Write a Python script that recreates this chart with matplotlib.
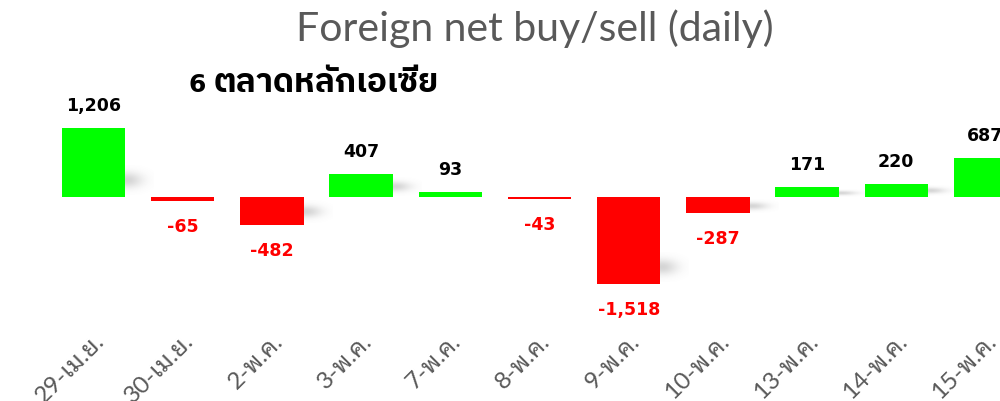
import matplotlib
matplotlib.use("Agg")
import matplotlib.pyplot as plt
import numpy as np

categories = ["29-เม.ย.", "30-เม.ย.", "2-พ.ค.", "3-พ.ค.", "7-พ.ค.", "8-พ.ค.",
              "9-พ.ค.", "10-พ.ค.", "13-พ.ค.", "14-พ.ค.", "15-พ.ค."]
values = [1206, -65, -482, 407, 93, -43, -1518, -287, 171, 220, 687]

title = "Foreign net buy/sell (daily)"
subtitle_num = "6"
subtitle_thai = "ตลาดหลักเอเซีย"

GREEN = "#00FF00"
RED = "#FF0000"
GRAY = "#595959"

W, H = 1000, 401
fig = plt.figure(figsize=(W / 100, H / 100), dpi=100)

ax_bottom_px = 79
ax = fig.add_axes([0, ax_bottom_px / H, 1, (H - ax_bottom_px) / H])
ax.set_facecolor("none")

x = np.arange(len(values))
px_per_cat = 89.2
first_center = 93.5
xlim = (-first_center / px_per_cat, (W - first_center) / px_per_cat)

zero_from_top = 197
px_per_unit = 0.0572
ylim = (-(H - ax_bottom_px - zero_from_top) / px_per_unit, zero_from_top / px_per_unit)

colors = [GREEN if v >= 0 else RED for v in values]
bw = 0.71
ax.bar(x, values, width=bw, color=colors, zorder=3, linewidth=0)

# soft shadows near the lower-right corner of each bar
yy, xx = np.mgrid[-1:1:60j, -1:1:80j]
blob = np.exp(-(xx ** 2) * 3.0 - (yy ** 2) * 3.5)
rgba = np.zeros(blob.shape + (4,))
rgba[..., :3] = 0.45
rgba[..., 3] = blob * 0.30
for xi, v in zip(x, values):
    bottom = min(0, v)
    h_px = abs(v) * px_per_unit
    sh_px = min(h_px * 0.8, 30)
    if sh_px < 6:
        continue
    cy = bottom + (sh_px * 0.55) / px_per_unit
    hu = sh_px / px_per_unit
    cx = xi + bw / 2 + 0.02
    ax.imshow(rgba, extent=[cx - 0.30, cx + 0.30, cy - hu / 2, cy + hu / 2],
              aspect="auto", zorder=2, interpolation="bilinear")
ax.set_xlim(*xlim)
ax.set_ylim(*ylim)

lab_font = dict(family="DejaVu Sans", fontweight="bold", fontsize=12.5)
for xi, v in zip(x, values):
    txt = f"{v:,}"
    if v >= 0:
        ax.annotate(txt, (xi, v), xytext=(0, 13), textcoords="offset pixels",
                    ha="center", va="bottom", color="black", zorder=5, **lab_font)
    else:
        ax.annotate(txt, (xi, v), xytext=(0, -17), textcoords="offset pixels",
                    ha="center", va="top", color=RED, zorder=5, **lab_font)

ax.set_xticks(x)
ax.set_xticklabels(categories, rotation=45, ha="right", rotation_mode="anchor",
                   fontsize=17.5, color=GRAY, family=["Lato", "Noto Sans Thai Looped"])
ax.tick_params(axis="x", length=0, pad=6)
ax.set_yticks([])
for s in ax.spines.values():
    s.set_visible(False)

fig.text(534.5 / W, 1 - 29 / H, title, ha="center", va="center", fontsize=29.5,
         color=GRAY, family=["Lato"])
fig.text(188 / W, 1 - 92 / H, subtitle_num, ha="left", va="baseline", fontsize=18,
         fontweight="bold", color="black", family=["DejaVu Sans"])
fig.text(214 / W, 1 - 92 / H, subtitle_thai, ha="left", va="baseline", fontsize=24,
         fontweight="bold", color="black", family=["IBM Plex Sans Thai", "DejaVu Sans"])

fig.savefig("out.png", dpi=100)
